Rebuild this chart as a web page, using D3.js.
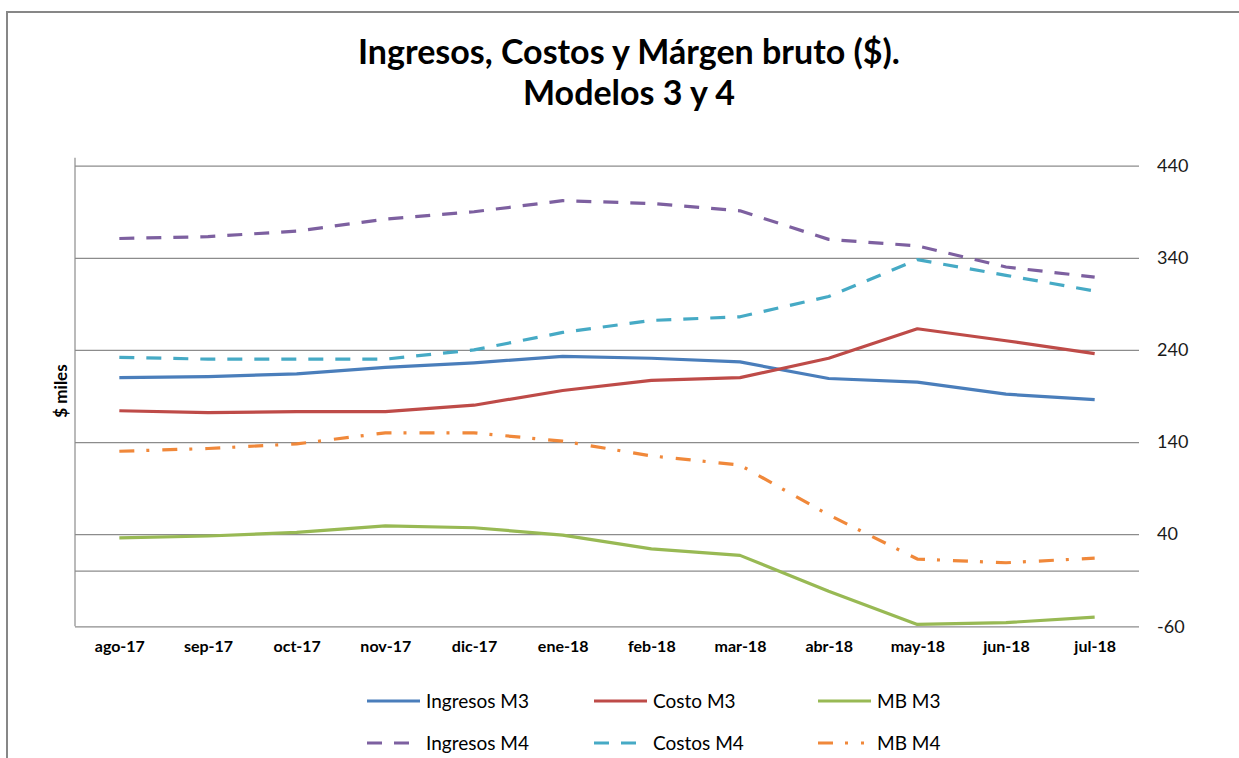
<!DOCTYPE html>
<html lang="es">
<head>
<meta charset="UTF-8">
<title>Ingresos, Costos y Márgen bruto</title>
<script src="https://d3js.org/d3.v7.min.js"></script>
<style>
  body { margin: 0; background: #fff; }
  svg { display: block; font-family: Lato, "Open Sans", sans-serif; }
</style>
</head>
<body>
<div id="chart"></div>
<script>
// data ($ miles)
var months = ["ago-17", "sep-17", "oct-17", "nov-17", "dic-17", "ene-18",
              "feb-18", "mar-18", "abr-18", "may-18", "jun-18", "jul-18"];

var ingresosM3 = [210, 211, 214, 221, 226, 233, 231, 227, 209, 205, 192, 186];
var costoM3    = [174, 172, 173, 173, 180, 196, 207, 210, 231, 263, 250, 236];
var mbM3       = [36, 38, 42, 49, 47, 39, 24, 17, -22, -58, -56, -50];
var ingresosM4 = [361, 363, 369, 382, 390, 402, 399, 391, 360, 353, 330, 319];
var costosM4   = [232, 230, 230, 230, 240, 259, 272, 276, 298, 338, 321, 304];
var mbM4       = [130, 133, 138, 150, 150, 141, 125, 115, 61, 13, 9, 14];

var yTicks = [440, 340, 240, 140, 40, -60];

var series = [
  { name: "Ingresos M3", values: ingresosM3, color: "#4a7ebb", dash: null },
  { name: "Costo M3",    values: costoM3,    color: "#be4b48", dash: null },
  { name: "MB M3",       values: mbM3,       color: "#98b954", dash: null },
  { name: "Ingresos M4", values: ingresosM4, color: "#7d60a0", dash: "15,12" },
  { name: "Costos M4",   values: costosM4,   color: "#46aac5", dash: "15,12" },
  { name: "MB M4",       values: mbM4,       color: "#f0883a", dash: "15,12,3,13" }
];

var width = 1239, height = 758;
var plot = { left: 75, right: 1139, top: 165.7, bottom: 626.3 };

var svg = d3.select("#chart").append("svg")
    .attr("width", width)
    .attr("height", height);

// chart frame (continues past the picture on the right and bottom)
svg.append("rect")
    .attr("x", 7).attr("y", 12)
    .attr("width", 1260).attr("height", 800)
    .attr("fill", "#fff")
    .attr("stroke", "#878787")
    .attr("stroke-width", 2);

var x = d3.scalePoint()
    .domain(months)
    .range([plot.left, plot.right])
    .padding(0.5);

var y = d3.scaleLinear()
    .domain([-60, 440])
    .range([plot.bottom, plot.top]);

// title
var title = svg.append("text")
    .attr("text-anchor", "middle")
    .attr("font-weight", "bold")
    .attr("font-size", 34)
    .attr("fill", "#000");
title.append("tspan").attr("x", 629).attr("y", 64).text("Ingresos, Costos y Márgen bruto ($).");
title.append("tspan").attr("x", 629).attr("y", 105).text("Modelos 3 y 4");

// gridlines + right axis labels
svg.append("g")
    .attr("transform", "translate(" + plot.right + ",0)")
    .call(d3.axisRight(y).tickValues(yTicks)
      .tickFormat(function(d) { return String(d); })
      .tickSize(-(plot.right - plot.left)).tickPadding(18))
    .call(function(g) {
      g.select(".domain").remove();
      g.selectAll(".tick line").attr("stroke", "#8c8c8c").attr("stroke-width", 1.2);
      g.selectAll(".tick text")
        .attr("font-size", 18)
        .attr("fill", "#1a1a1a")
        .attr("font-family", "Lato, sans-serif");
    });

// zero line (category axis crossing)
svg.append("line")
    .attr("x1", plot.left).attr("x2", plot.right)
    .attr("y1", y(0)).attr("y2", y(0))
    .attr("stroke", "#8c8c8c").attr("stroke-width", 1.2);

// left value axis line
svg.append("line")
    .attr("x1", plot.left).attr("x2", plot.left)
    .attr("y1", plot.top - 8).attr("y2", plot.bottom)
    .attr("stroke", "#8c8c8c").attr("stroke-width", 1.2);

// category labels
svg.append("g")
    .attr("transform", "translate(0," + plot.bottom + ")")
    .call(d3.axisBottom(x).tickSize(0).tickPadding(14))
    .call(function(g) {
      g.select(".domain").remove();
      g.selectAll(".tick text")
        .attr("font-size", 16)
        .attr("font-weight", "bold")
        .attr("fill", "#000")
        .attr("font-family", "Lato, sans-serif");
    });

// y axis title
svg.append("text")
    .attr("transform", "translate(67,391) rotate(-90)")
    .attr("text-anchor", "middle")
    .attr("font-size", 17)
    .attr("font-weight", "bold")
    .text("$ miles");

// lines
var line = d3.line()
    .x(function(d, i) { return x(months[i]); })
    .y(function(d) { return y(d); });

svg.append("g").selectAll("path")
    .data(series)
    .join("path")
    .attr("d", function(s) { return line(s.values); })
    .attr("fill", "none")
    .attr("stroke", function(s) { return s.color; })
    .attr("stroke-width", 3.2)
    .attr("stroke-linejoin", "round")
    .attr("stroke-dasharray", function(s) { return s.dash; });

// legend
var legendCols = [367, 594, 818];
var legendRows = [701, 743];

var legend = svg.append("g").selectAll("g")
    .data(series)
    .join("g")
    .attr("transform", function(s, i) {
      return "translate(" + legendCols[i % 3] + "," + legendRows[Math.floor(i / 3)] + ")";
    });

legend.append("line")
    .attr("x1", 0).attr("x2", function(s) { return s.dash ? 46 : 53; })
    .attr("y1", 0).attr("y2", 0)
    .attr("stroke", function(s) { return s.color; })
    .attr("stroke-width", 3.2)
    .attr("stroke-dasharray", function(s) { return s.dash; });

legend.append("text")
    .attr("x", 59)
    .attr("y", 0)
    .attr("dy", "0.35em")
    .attr("font-size", 19)
    .attr("fill", "#000")
    .text(function(s) { return s.name; });
</script>
</body>
</html>
